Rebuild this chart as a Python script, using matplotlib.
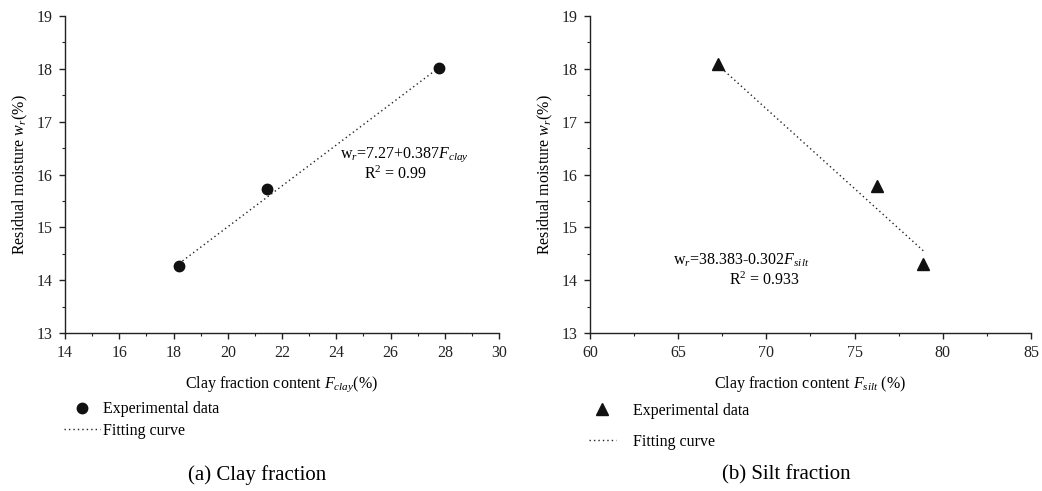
import matplotlib
matplotlib.use("Agg")
import matplotlib.pyplot as plt
from matplotlib.ticker import MultipleLocator
import numpy as np

plt.rcParams['font.family'] = ['Liberation Serif', 'DejaVu Serif']
plt.rcParams['mathtext.fontset'] = 'custom'
plt.rcParams['mathtext.rm'] = 'Liberation Serif'
plt.rcParams['mathtext.it'] = 'Liberation Serif:italic'
plt.rcParams['mathtext.bf'] = 'Liberation Serif:bold'

# Data
clay_x = [18.2, 21.45, 27.8]
clay_y = [14.27, 15.73, 18.02]
clay_fit = (7.27, 0.387)

silt_x = [67.25, 76.3, 78.9]
silt_y = [18.1, 15.78, 14.3]
silt_fit = (38.383, -0.302)

FS = 11.5

fig = plt.figure(figsize=(10.42, 4.91), dpi=100)
ax1 = fig.add_axes([0.0624, 0.3218, 0.4165, 0.6456])
ax2 = fig.add_axes([0.5662, 0.3218, 0.4232, 0.6456])

dot_style = (0, (1, 2.2))

def style(ax, xlim, xmaj, xmin):
    ax.set_xlim(*xlim)
    ax.set_ylim(13, 19)
    ax.xaxis.set_major_locator(MultipleLocator(xmaj))
    ax.xaxis.set_minor_locator(MultipleLocator(xmin))
    ax.yaxis.set_major_locator(MultipleLocator(1))
    ax.yaxis.set_minor_locator(MultipleLocator(0.5))
    for s in ['top', 'right']:
        ax.spines[s].set_visible(False)
    for s in ['left', 'bottom']:
        ax.spines[s].set_linewidth(1.0)
        ax.spines[s].set_color('#222222')
    ax.tick_params(which='major', direction='out', length=4, width=1, labelsize=FS, colors='#222222')
    ax.tick_params(axis='x', which='major', pad=5)
    ax.tick_params(axis='y', which='major', pad=5)
    ax.tick_params(which='minor', direction='out', length=2.5, width=0.8, colors='#222222')
    ax.set_ylabel('Residual moisture $w_r$(%)', fontsize=FS, labelpad=5)

# Left panel
style(ax1, (14, 30), 2, 1)
xf = np.array([min(clay_x), max(clay_x)])
ax1.plot(xf, clay_fit[0] + clay_fit[1] * xf, linestyle=dot_style, color='#222222', lw=1.0,
         label='Fitting curve', zorder=2)
ax1.plot(clay_x, clay_y, 'o', color='#111111', ms=7.5, linestyle='none',
         label='Experimental data', zorder=3)
ax1.text(26.5, 16.37, r'$\mathrm{w}_r$=7.27+0.387$F_{clay}$', fontsize=FS, ha='center', va='center')
ax1.text(26.2, 16.0, r'R$^2$ = 0.99', fontsize=FS, ha='center', va='center')
ax1.set_xlabel('Clay fraction content $F_{clay}$(%)', fontsize=FS, labelpad=9)
h, l = ax1.get_legend_handles_labels()
ax1.legend([h[1], h[0]], [l[1], l[0]], loc='upper left', bbox_to_anchor=(-0.003, -0.215),
           frameon=False, fontsize=FS, handlelength=2.3, handletextpad=0.15,
           labelspacing=0.35, borderaxespad=0, borderpad=0)

# Right panel
style(ax2, (60, 85), 5, 2.5)
xf2 = np.array([min(silt_x), max(silt_x)])
ax2.plot(xf2, silt_fit[0] + silt_fit[1] * xf2, linestyle=dot_style, color='#222222', lw=1.0,
         label='Fitting curve', zorder=2)
ax2.plot(silt_x, silt_y, '^', color='#111111', ms=8.5, linestyle='none',
         label='Experimental data', zorder=3)
ax2.text(68.56, 14.38, r'$\mathrm{w}_r$=38.383-0.302$F_{silt}$', fontsize=FS, ha='center', va='center')
ax2.text(69.9, 14.0, r'R$^2$ = 0.933', fontsize=FS, ha='center', va='center')
ax2.set_xlabel('Clay fraction content $F_{silt}$ (%)', fontsize=FS, labelpad=9)
h, l = ax2.get_legend_handles_labels()
ax2.legend([h[1], h[0]], [l[1], l[0]], loc='upper left', bbox_to_anchor=(-0.003, -0.22),
           frameon=False, fontsize=FS, handlelength=1.7, handletextpad=1.1,
           labelspacing=0.95, borderaxespad=0, borderpad=0)

fig.text(257 / 1042, 1 - 475 / 491, '(a) Clay fraction', fontsize=15, ha='center', va='center')
fig.text(786 / 1042, 1 - 475 / 491, '(b) Silt fraction', fontsize=15, ha='center', va='center')

fig.savefig('out.png', dpi=100)
